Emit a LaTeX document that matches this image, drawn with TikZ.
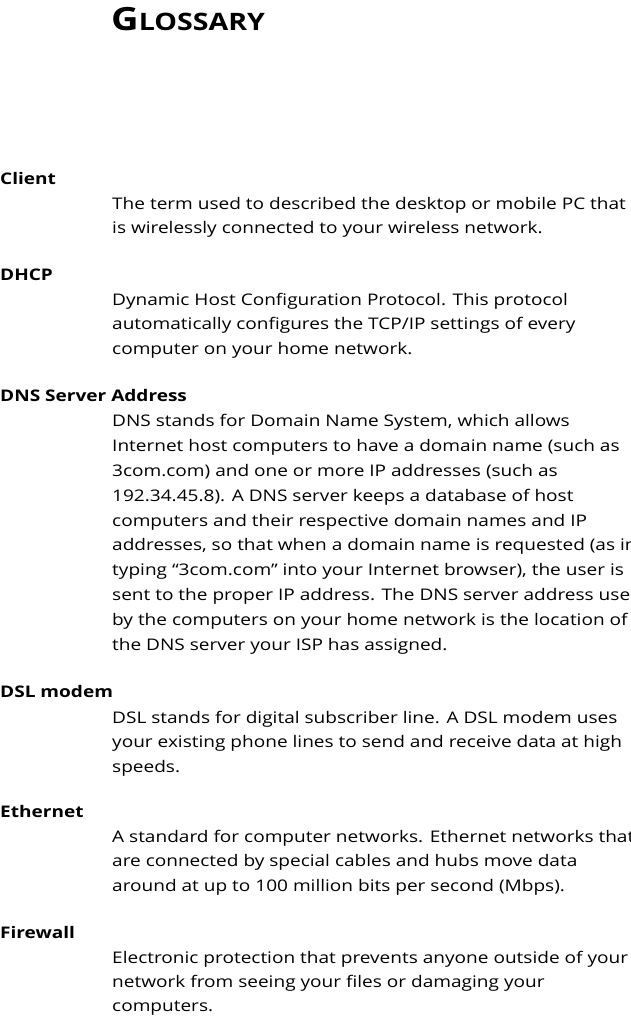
\documentclass[tikz,border=0pt]{standalone}
\usepackage{fontspec}
\setmainfont{Open Sans}[FakeStretch=1.19]
\begin{document}
\begin{tikzpicture}[x=1pt,y=-1pt,
  term/.style={anchor=base west,inner sep=0pt,font=\fontsize{16}{18}\selectfont\bfseries},
  body/.style={anchor=base west,inner sep=0pt,font=\fontsize{16}{18}\selectfont}]
\useasboundingbox (0,0) rectangle (630,1018);
\node[anchor=base west,inner sep=0pt,font=\bfseries] (title) at (111,30) {\fontsize{32}{34}\selectfont G\fontsize{24}{26}\selectfont LOSSARY};
\node[term] (t1) at (0,184) {Client};
\node[body] (c1) at (112,209) {The term used to described the desktop or mobile PC that};
\node[body] (c2) at (112,233) {is wirelessly connected to your wireless network.};
\node[term] (t2) at (0,280) {DHCP};
\node[body] (d1) at (112,305) {Dynamic Host Configuration Protocol. This protocol};
\node[body] (d2) at (112,329) {automatically configures the TCP/IP settings of every};
\node[body] (d3) at (112,354) {computer on your home network.};
\node[term] (t3) at (0,401) {DNS Server Address};
\node[body] (n0) at (112,426) {DNS stands for Domain Name System, which allows};
\node[body] (n1) at (112,451) {Internet host computers to have a domain name (such as};
\node[body] (n2) at (112,476) {3com.com) and one or more IP addresses (such as};
\node[body] (n3) at (112,501) {192.34.45.8). A DNS server keeps a database of host};
\node[body] (n4) at (112,526) {computers and their respective domain names and IP};
\node[body] (n5) at (112,550) {addresses, so that when a domain name is requested (as in};
\node[body] (n6) at (112,575) {typing “3com.com” into your Internet browser), the user is};
\node[body] (n7) at (112,600) {sent to the proper IP address. The DNS server address used};
\node[body] (n8) at (112,625) {by the computers on your home network is the location of};
\node[body] (n9) at (112,650) {the DNS server your ISP has assigned.};
\node[term] (t4) at (0,697) {DSL modem};
\node[body] (s1) at (112,723) {DSL stands for digital subscriber line. A DSL modem uses};
\node[body] (s2) at (112,747) {your existing phone lines to send and receive data at high};
\node[body] (s3) at (112,772) {speeds.};
\node[term] (t5) at (0,817) {Ethernet};
\node[body] (e1) at (112,842) {A standard for computer networks. Ethernet networks that};
\node[body] (e2) at (112,866) {are connected by special cables and hubs move data};
\node[body] (e3) at (112,891) {around at up to 100 million bits per second (Mbps).};
\node[term] (t6) at (0,938) {Firewall};
\node[body] (f1) at (112,963) {Electronic protection that prevents anyone outside of your};
\node[body] (f2) at (112,987) {network from seeing your files or damaging your};
\node[body] (f3) at (112,1011) {computers.};
\end{tikzpicture}
\end{document}
